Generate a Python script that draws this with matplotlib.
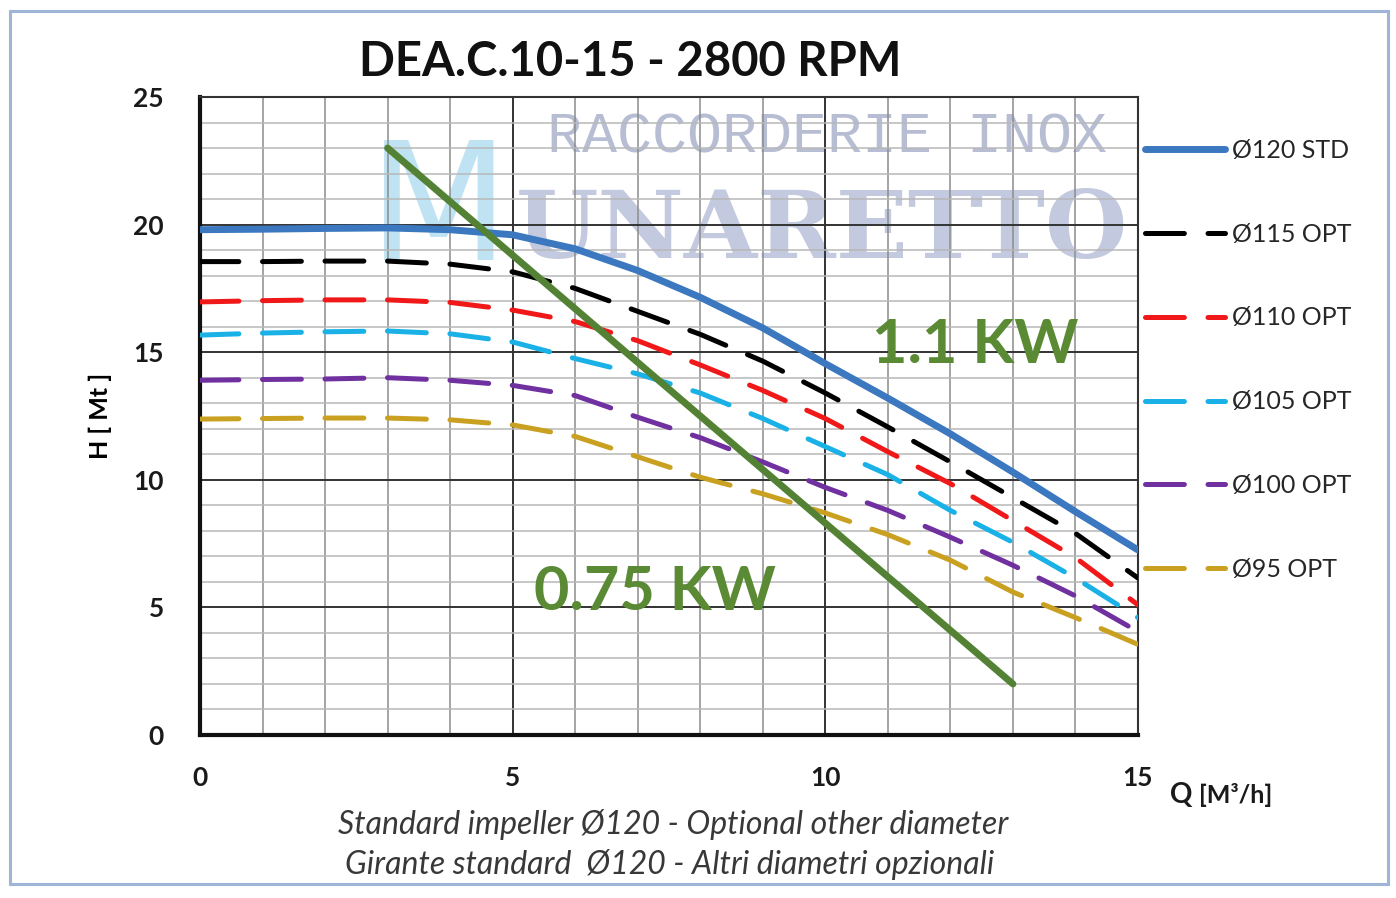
import matplotlib
matplotlib.use("Agg")
import matplotlib.pyplot as plt
from matplotlib.lines import Line2D
from matplotlib.patches import Rectangle
from matplotlib.ticker import MultipleLocator

plt.rcParams['font.family'] = ['Lato', 'DejaVu Sans']
plt.rcParams['lines.scale_dashes'] = False

# ---- data ----
Q = [0, 1, 2, 3, 4, 5, 6, 7, 8, 9, 10, 11, 12, 13, 14, 15]
H120 = [19.8, 19.82, 19.85, 19.87, 19.8, 19.6, 19.05, 18.2, 17.15, 15.95, 14.55, 13.2, 11.8, 10.3, 8.75, 7.25]
H115 = [18.55, 18.55, 18.57, 18.57, 18.45, 18.15, 17.5, 16.6, 15.7, 14.65, 13.4, 12.07, 10.7, 9.3, 7.9, 6.15]
H110 = [16.97, 17.02, 17.05, 17.05, 16.95, 16.65, 16.2, 15.45, 14.5, 13.5, 12.4, 11.1, 9.85, 8.4, 6.95, 5.1]
H105 = [15.67, 15.75, 15.8, 15.83, 15.72, 15.4, 14.75, 14.15, 13.4, 12.4, 11.3, 10.2, 8.8, 7.55, 6.15, 4.6]
H100 = [13.9, 13.93, 13.95, 14.0, 13.9, 13.7, 13.3, 12.45, 11.65, 10.7, 9.7, 8.8, 7.75, 6.65, 5.45, 4.05]
H95 = [12.38, 12.4, 12.42, 12.42, 12.35, 12.15, 11.7, 10.9, 10.1, 9.45, 8.7, 7.85, 6.85, 5.6, 4.6, 3.55]
power_Q = [3, 13]
power_H = [23, 2]

labels = ['Ø120 STD', 'Ø115 OPT', 'Ø110 OPT', 'Ø105 OPT', 'Ø100 OPT', 'Ø95 OPT']
series = [H120, H115, H110, H105, H100, H95]
colors = ['#3b78c0', '#000000', '#f01818', '#19b1e6', '#7030a0', '#c9a020']
x_ticks = [0, 5, 10, 15]
y_ticks = [0, 5, 10, 15, 20, 25]

title = 'DEA.C.10-15 - 2800 RPM'
caption1 = 'Standard impeller Ø120 - Optional other diameter'
caption2 = 'Girante standard  Ø120 - Altri diametri opzionali'

# ---- figure ----
fig = plt.figure(figsize=(13.96, 8.98), dpi=100)
fig.patch.set_facecolor('white')
fig.add_artist(Rectangle((10 / 1396, 1 - 884 / 898), 1378 / 1396, 873 / 898,
                         transform=fig.transFigure, fill=False,
                         edgecolor='#9fb5d8', lw=2.2))

ax = fig.add_axes([200 / 1396, 1 - 735 / 898, 938 / 1396, 638 / 898])
ax.set_xlim(0, 15)
ax.set_ylim(0, 25)
ax.set_axisbelow(True)

ax.xaxis.set_major_locator(MultipleLocator(5))
ax.yaxis.set_major_locator(MultipleLocator(5))
ax.xaxis.set_minor_locator(MultipleLocator(1))
ax.yaxis.set_minor_locator(MultipleLocator(1))
ax.grid(which='major', color='#333333', lw=1.4)
ax.grid(which='minor', axis='x', color='#8c8c8c', lw=1.1)
ax.grid(which='minor', axis='y', color='#b8b8b8', lw=1.1)
ax.tick_params(which='both', length=0)
ax.tick_params(axis='y', pad=26, labelsize=19)
ax.tick_params(axis='x', pad=22, labelsize=19)
ax.set_xticks(x_ticks)
ax.set_yticks(y_ticks)
for t in ax.get_xticklabels() + ax.get_yticklabels():
    t.set_fontweight('bold')
    t.set_color('#1a1a1a')

for s in ['left', 'bottom']:
    ax.spines[s].set_linewidth(3)
    ax.spines[s].set_color('#111111')
for s in ['top', 'right']:
    ax.spines[s].set_linewidth(1.5)
    ax.spines[s].set_color('#333333')

# watermark
ax.text(4.95, 18.6, 'M', fontsize=118, color='#bfe3f2', family='DejaVu Sans',
        ha='right', va='baseline', zorder=0.2)
ax.text(5.55, 23.4, 'RACCORDERIE INOX', fontsize=42, color='#b7bdd3',
        family='Liberation Mono', ha='left', va='center', zorder=0.2)
ax.text(5.05, 19.7, 'UNARETTO', fontsize=68, color='#c3c9de', fontweight='bold',
        family='DejaVu Serif', ha='left', va='center', zorder=0.2)

# curves
handles = []
for i, (H, c, lab) in enumerate(zip(series, colors, labels)):
    if i == 0:
        ax.plot(Q, H, color=c, lw=5, solid_capstyle='round', zorder=3)
        h = Line2D([], [], color=c, lw=5, solid_capstyle='round')
    else:
        ax.plot(Q, H, color=c, lw=3.6, dashes=(28, 17),
                dash_capstyle='round', zorder=3)
        h = Line2D([], [], color=c, lw=3.6, dashes=(28, 17), dash_capstyle='round')
    handles.append(h)

ax.plot(power_Q, power_H, color='#548235', lw=5, solid_capstyle='round', zorder=4)

ax.text(12.4, 15.3, '1.1 KW', fontsize=44, fontweight='bold', color='#5b8a35',
        ha='center', va='center', zorder=5)
ax.text(7.28, 5.6, '0.75 KW', fontsize=44, fontweight='bold', color='#5b8a35',
        ha='center', va='center', zorder=5)

leg = ax.legend(handles, labels, loc='upper left',
                bbox_to_anchor=(1145 / 1396, 1 - 139 / 898),
                bbox_transform=fig.transFigure, frameon=False,
                fontsize=18, handlelength=3.2, handletextpad=0.3,
                labelspacing=2.43, borderpad=0, borderaxespad=0)
for t in leg.get_texts():
    t.set_color('#262626')

fig.text(630 / 1396, 1 - 62 / 898, title, fontsize=34, fontweight='bold',
         color='#111111', ha='center', va='center')
ax.set_ylabel('H [ Mt ]', fontsize=18, fontweight='bold')
ax.yaxis.set_label_coords(-88 / 938, 0.5)
fig.text(1170 / 1396, 1 - 795 / 898, 'Q', fontsize=20, fontweight='bold',
         ha='left', va='center', color='#1a1a1a')
fig.text(1199 / 1396, 1 - 795 / 898, '[M³/h]', fontsize=18, fontweight='bold',
         ha='left', va='center', color='#1a1a1a')
fig.text(673 / 1396, 1 - 825 / 898, caption1, fontsize=23, style='italic',
         color='#383838', ha='center', va='center')
fig.text(670 / 1396, 1 - 865 / 898, caption2, fontsize=23, style='italic',
         color='#383838', ha='center', va='center')

fig.savefig('out.png', dpi=100)
